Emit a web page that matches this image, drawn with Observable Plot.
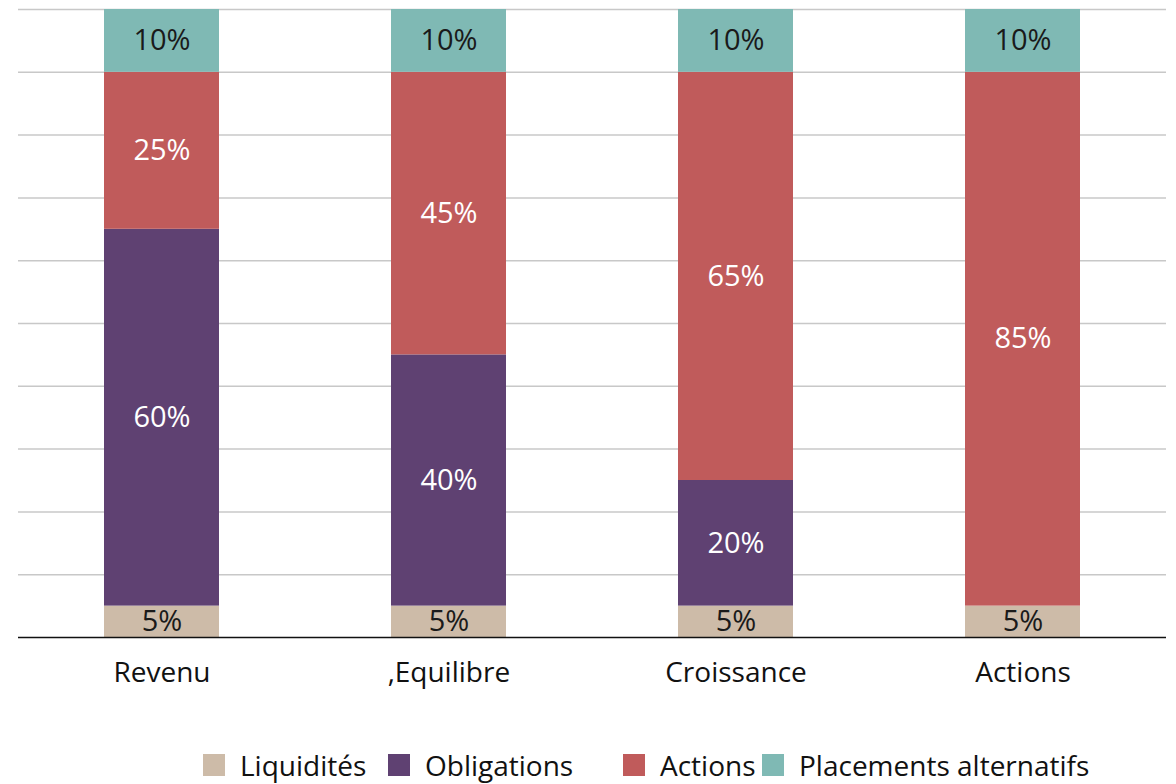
<!DOCTYPE html>
<html>
<head>
<meta charset="utf-8">
<script src="https://cdn.jsdelivr.net/npm/d3@7"></script>
<script src="https://cdn.jsdelivr.net/npm/@observablehq/plot@0.6"></script>
<style>
  html, body { margin: 0; padding: 0; background: #fff; }
  #wrap { position: relative; width: 1176px; height: 784px; font-family: "Open Sans", sans-serif; color: #111; }
  #legend { position: absolute; left: 0; top: 745px; width: 1176px; height: 40px; }
  .item { position: absolute; top: 0; display: flex; align-items: center; height: 40px; font-size: 28px; white-space: nowrap; }
  .swatch { width: 22px; height: 22px; margin-right: 15px; }
</style>
</head>
<body>
<div id="wrap">
  <div id="chart"></div>
  <div id="legend"></div>
</div>
<script>
// Portfolio profiles and their asset mix (percent)
const categories = ["Revenu", "\u201AEquilibre", "Croissance", "Actions"];
const series = ["Liquidités", "Obligations", "Actions", "Placements alternatifs"];
const liquidites = [5, 5, 5, 5];
const obligations = [60, 40, 20, 0];
const actionsPct = [25, 45, 65, 85];
const placements = [10, 10, 10, 10];
const gridTicks = [10, 20, 30, 40, 50, 60, 70, 80, 90, 100];

const colors = ["#cdbba8", "#5f4172", "#c05b5b", "#7fb9b4"];
const labelColors = ["#1a1a1a", "#ffffff", "#ffffff", "#1a1a1a"];
// left edge of each legend entry
const legendLeft = [203, 388, 623, 762];

const valuesBySeries = [liquidites, obligations, actionsPct, placements];
const rows = [];
series.forEach((s, si) => {
  categories.forEach((c, ci) => {
    rows.push({series: s, category: c, value: valuesBySeries[si][ci]});
  });
});
const labelColor = d => labelColors[series.indexOf(d.series)];

const chart = Plot.plot({
  width: 1176,
  height: 700,
  marginTop: 9,
  marginBottom: 63,
  marginLeft: 18,
  marginRight: 10,
  style: {fontFamily: "Open Sans, sans-serif", color: "#111", background: "#fff"},
  x: {domain: categories, paddingInner: 0.6, paddingOuter: 0.3, label: null},
  y: {domain: [0, 100], axis: null},
  color: {domain: series, range: colors},
  marks: [
    Plot.ruleY(gridTicks, {stroke: "#c8c8c8", strokeWidth: 1.5}),
    Plot.barY(rows, {x: "category", y: "value", fill: "series", z: "series"}),
    // value labels, centred in each stacked segment (empty segments get no text)
    Plot.text(rows, Plot.stackY({
      x: "category", y: "value", z: "series",
      text: d => d.value > 0 ? d.value + "%" : "",
      fill: labelColor, fontSize: 29
    })),
    Plot.ruleY([0], {stroke: "#111", strokeWidth: 1.5}),
    Plot.axisX({tickSize: 0, tickPadding: 25, fontSize: 28, label: null, fill: "#111"})
  ]
});
document.getElementById("chart").appendChild(chart);

// Legend
const legend = d3.select("#legend");
series.forEach((s, i) => {
  const item = legend.append("div").attr("class", "item").style("left", legendLeft[i] + "px");
  item.append("div").attr("class", "swatch").style("background", colors[i]);
  item.append("span").text(s);
});
</script>
</body>
</html>
